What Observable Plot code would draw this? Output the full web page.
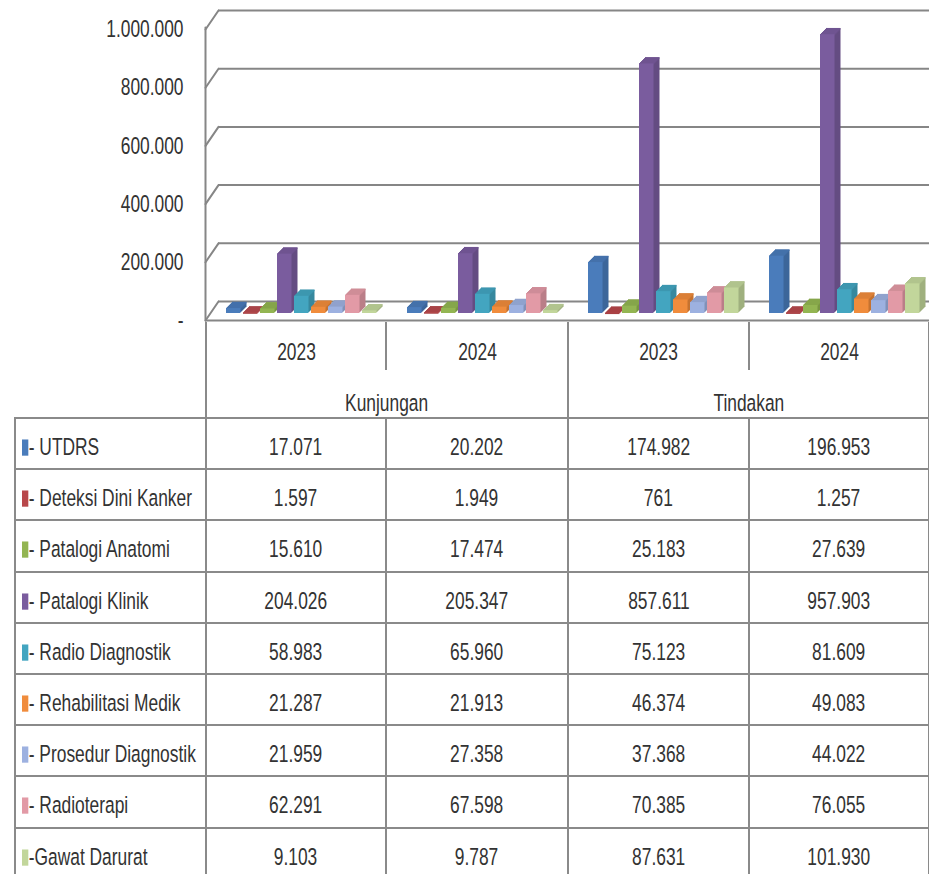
<!DOCTYPE html>
<html>
<head>
<meta charset="utf-8">
<script src="https://cdn.jsdelivr.net/npm/d3@7"></script>
<script src="https://cdn.jsdelivr.net/npm/@observablehq/plot@0.6"></script>
<style>
  html, body { margin: 0; padding: 0; background: #fff; }
  body { width: 929px; height: 874px; overflow: hidden; }
  #chart svg { display: block; overflow: visible; }
  #tbl { border-collapse: collapse; table-layout: fixed; width: 914px; margin-left: 14px;
         font-family: "Liberation Sans", Arial, sans-serif;
         font-size: 22px; line-height: 25px; color: #333; }
  #tbl td { border: 2px solid #8a8a8a; padding: 0; text-align: center; vertical-align: top; white-space: nowrap; overflow: hidden; box-sizing: border-box; }
  #tbl td.blank { border: none; }
  #tbl tr.year td { height: 48px; border-top: none; border-bottom: none; padding-top: 17px; }
  #tbl tr.group td { height: 48px; border-top: none; padding-top: 20px; }
  #tbl tr.data td { height: 51.2px; padding-top: 15px; }
  #tbl td.lab { text-align: left; padding-left: 6px; }
  .t { display: inline-block; transform: scale(0.79, 1.08); transform-origin: 50% 50%; }
  td.lab .t { transform-origin: 0 50%; }
  .sw { display: inline-block; width: 7.5px; height: 15px; margin-right: 1px; vertical-align: -1px; }
</style>
</head>
<body>
<div id="chart"></div>
<table id="tbl"></table>
<script>
// ---- data ----
const seriesNames = ["UTDRS", "Deteksi Dini Kanker", "Patalogi Anatomi", "Patalogi Klinik", "Radio Diagnostik", "Rehabilitasi Medik", "Prosedur Diagnostik", "Radioterapi", "Gawat Darurat"];
const seriesLabels = ["- UTDRS", "- Deteksi Dini Kanker", "- Patalogi Anatomi", "- Patalogi Klinik", "- Radio Diagnostik", "- Rehabilitasi Medik", "- Prosedur Diagnostik", "- Radioterapi", "-Gawat Darurat"];
const seriesColors = ["#4A7CBB", "#B8474A", "#93B552", "#7A5C9E", "#43A5C0", "#F08C3C", "#9DB1E0", "#E29AA6", "#C2D69B"];
const columnKeys = ["K2023", "K2024", "T2023", "T2024"];
const columnYears = ["2023", "2024", "2023", "2024"];
const groupNames = ["Kunjungan", "Tindakan"];
const kunjungan2023 = [17071, 1597, 15610, 204026, 58983, 21287, 21959, 62291, 9103];
const kunjungan2024 = [20202, 1949, 17474, 205347, 65960, 21913, 27358, 67598, 9787];
const tindakan2023 = [174982, 761, 25183, 857611, 75123, 46374, 37368, 70385, 87631];
const tindakan2024 = [196953, 1257, 27639, 957903, 81609, 49083, 44022, 76055, 101930];
const yTicks = [0, 200000, 400000, 600000, 800000, 1000000];

const columnValues = [kunjungan2023, kunjungan2024, tindakan2023, tindakan2024];
const fmt = v => v === 0 ? "-" : d3.format(",")(v).replace(/,/g, ".");

const data = [];
columnValues.forEach((vals, ci) => vals.forEach((v, si) => data.push({col: columnKeys[ci], series: seriesNames[si], si, value: v})));

// ---- chart ----
const grid = "#868686";
const lineShape = {draw(context, l) { context.moveTo(0, 0); context.lineTo(0, -l); }};
const firstCol = () => columnKeys[0];
const depthSteps = [6, 5, 4, 3, 2, 1];
const topSteps = [6, 5, 4, 3, 2, 1, 0];
const barMarks = [];
seriesNames.forEach((s, si) => {
  const d = data.filter(r => r.si === si);
  const dark = d3.color(seriesColors[si]).darker(0.55).formatHex();
  const top = d3.color(seriesColors[si]).darker(0.25).formatHex();
  // side extrusion
  depthSteps.forEach(k => barMarks.push(
    Plot.barY(d, {fx: "col", x: "series", y: "value", fill: () => dark, dx: 5 + k, dy: -7 - k, insetRight: 2.5})
  ));
  // top face
  topSteps.forEach(k => barMarks.push(
    Plot.tickY(d, {fx: "col", x: "series", y: "value", stroke: () => top, strokeWidth: 1.6, dx: 5 + k, dy: -7 - k, insetRight: 2.5})
  ));
  // front face
  barMarks.push(Plot.barY(d, {fx: "col", x: "series", y: "value", fill: () => seriesColors[si], dx: 5, dy: -7, insetRight: 2.5}));
});

const chart = Plot.plot({
  width: 929,
  height: 322,
  marginLeft: 205,
  marginRight: 0,
  marginTop: 29,
  marginBottom: 2,
  style: {fontFamily: "'Liberation Sans', Arial, sans-serif", fontSize: "22px", color: "#333", background: "#fff"},
  fx: {domain: columnKeys, padding: 0, axis: null},
  x: {domain: seriesNames, paddingInner: 0, paddingOuter: 0.53, align: 0.58, axis: null},
  y: {domain: [0, 1000000], ticks: yTicks, tickFormat: fmt, tickSize: 0, tickPadding: 22, label: null},
  color: {type: "identity"},
  marks: [
    Plot.ruleY(yTicks, {dx: 13, dy: -19, stroke: grid, strokeWidth: 2}),
    Plot.vector(yTicks, {y: d => d, fx: firstCol, frameAnchor: "left", length: 23, rotate: 34.4, anchor: "start", shape: lineShape, stroke: grid, strokeWidth: 2}),
    Plot.vector([0], {y: d => d, fx: firstCol, frameAnchor: "left", length: 293, rotate: 0, anchor: "start", shape: lineShape, stroke: grid, strokeWidth: 2}),
    Plot.ruleY([0], {stroke: grid, strokeWidth: 2}),
    ...barMarks
  ]
});
// condense the axis labels like the original narrow typeface
chart.querySelectorAll('g[aria-label="y-axis tick label"] text').forEach(t => {
  const x = parseFloat(t.getAttribute("x")) || 0;
  const yAttr = t.getAttribute("y") || "0";
  const y = /em$/.test(yAttr) ? 0 : (parseFloat(yAttr) || 0);
  const tr = t.getAttribute("transform") || "";
  t.setAttribute("transform", `${tr} translate(${x},${y}) scale(0.79,1.08) translate(${-x},${-y})`);
});
document.getElementById("chart").appendChild(chart);

// ---- data table ----
const tbl = document.getElementById("tbl");
const colgroup = document.createElement("colgroup");
[191, 180, 182, 181, 180].forEach(w => { const c = document.createElement("col"); c.style.width = w + "px"; colgroup.appendChild(c); });
tbl.appendChild(colgroup);
const T = s => `<span class="t">${s}</span>`;
let html = '<tr class="year"><td class="blank"></td>' + columnYears.map(y => `<td>${T(y)}</td>`).join("") + '</tr>';
html += '<tr class="group"><td class="blank"></td>' + groupNames.map(g => `<td colspan="2">${T(g)}</td>`).join("") + '</tr>';
seriesLabels.forEach((lab, si) => {
  html += `<tr class="data"><td class="lab">${T(`<span class="sw" style="background:${seriesColors[si]}"></span>${lab}`)}</td>` +
    columnValues.map(vals => `<td>${T(fmt(vals[si]))}</td>`).join("") + '</tr>';
});
tbl.insertAdjacentHTML("beforeend", html);
</script>
</body>
</html>
